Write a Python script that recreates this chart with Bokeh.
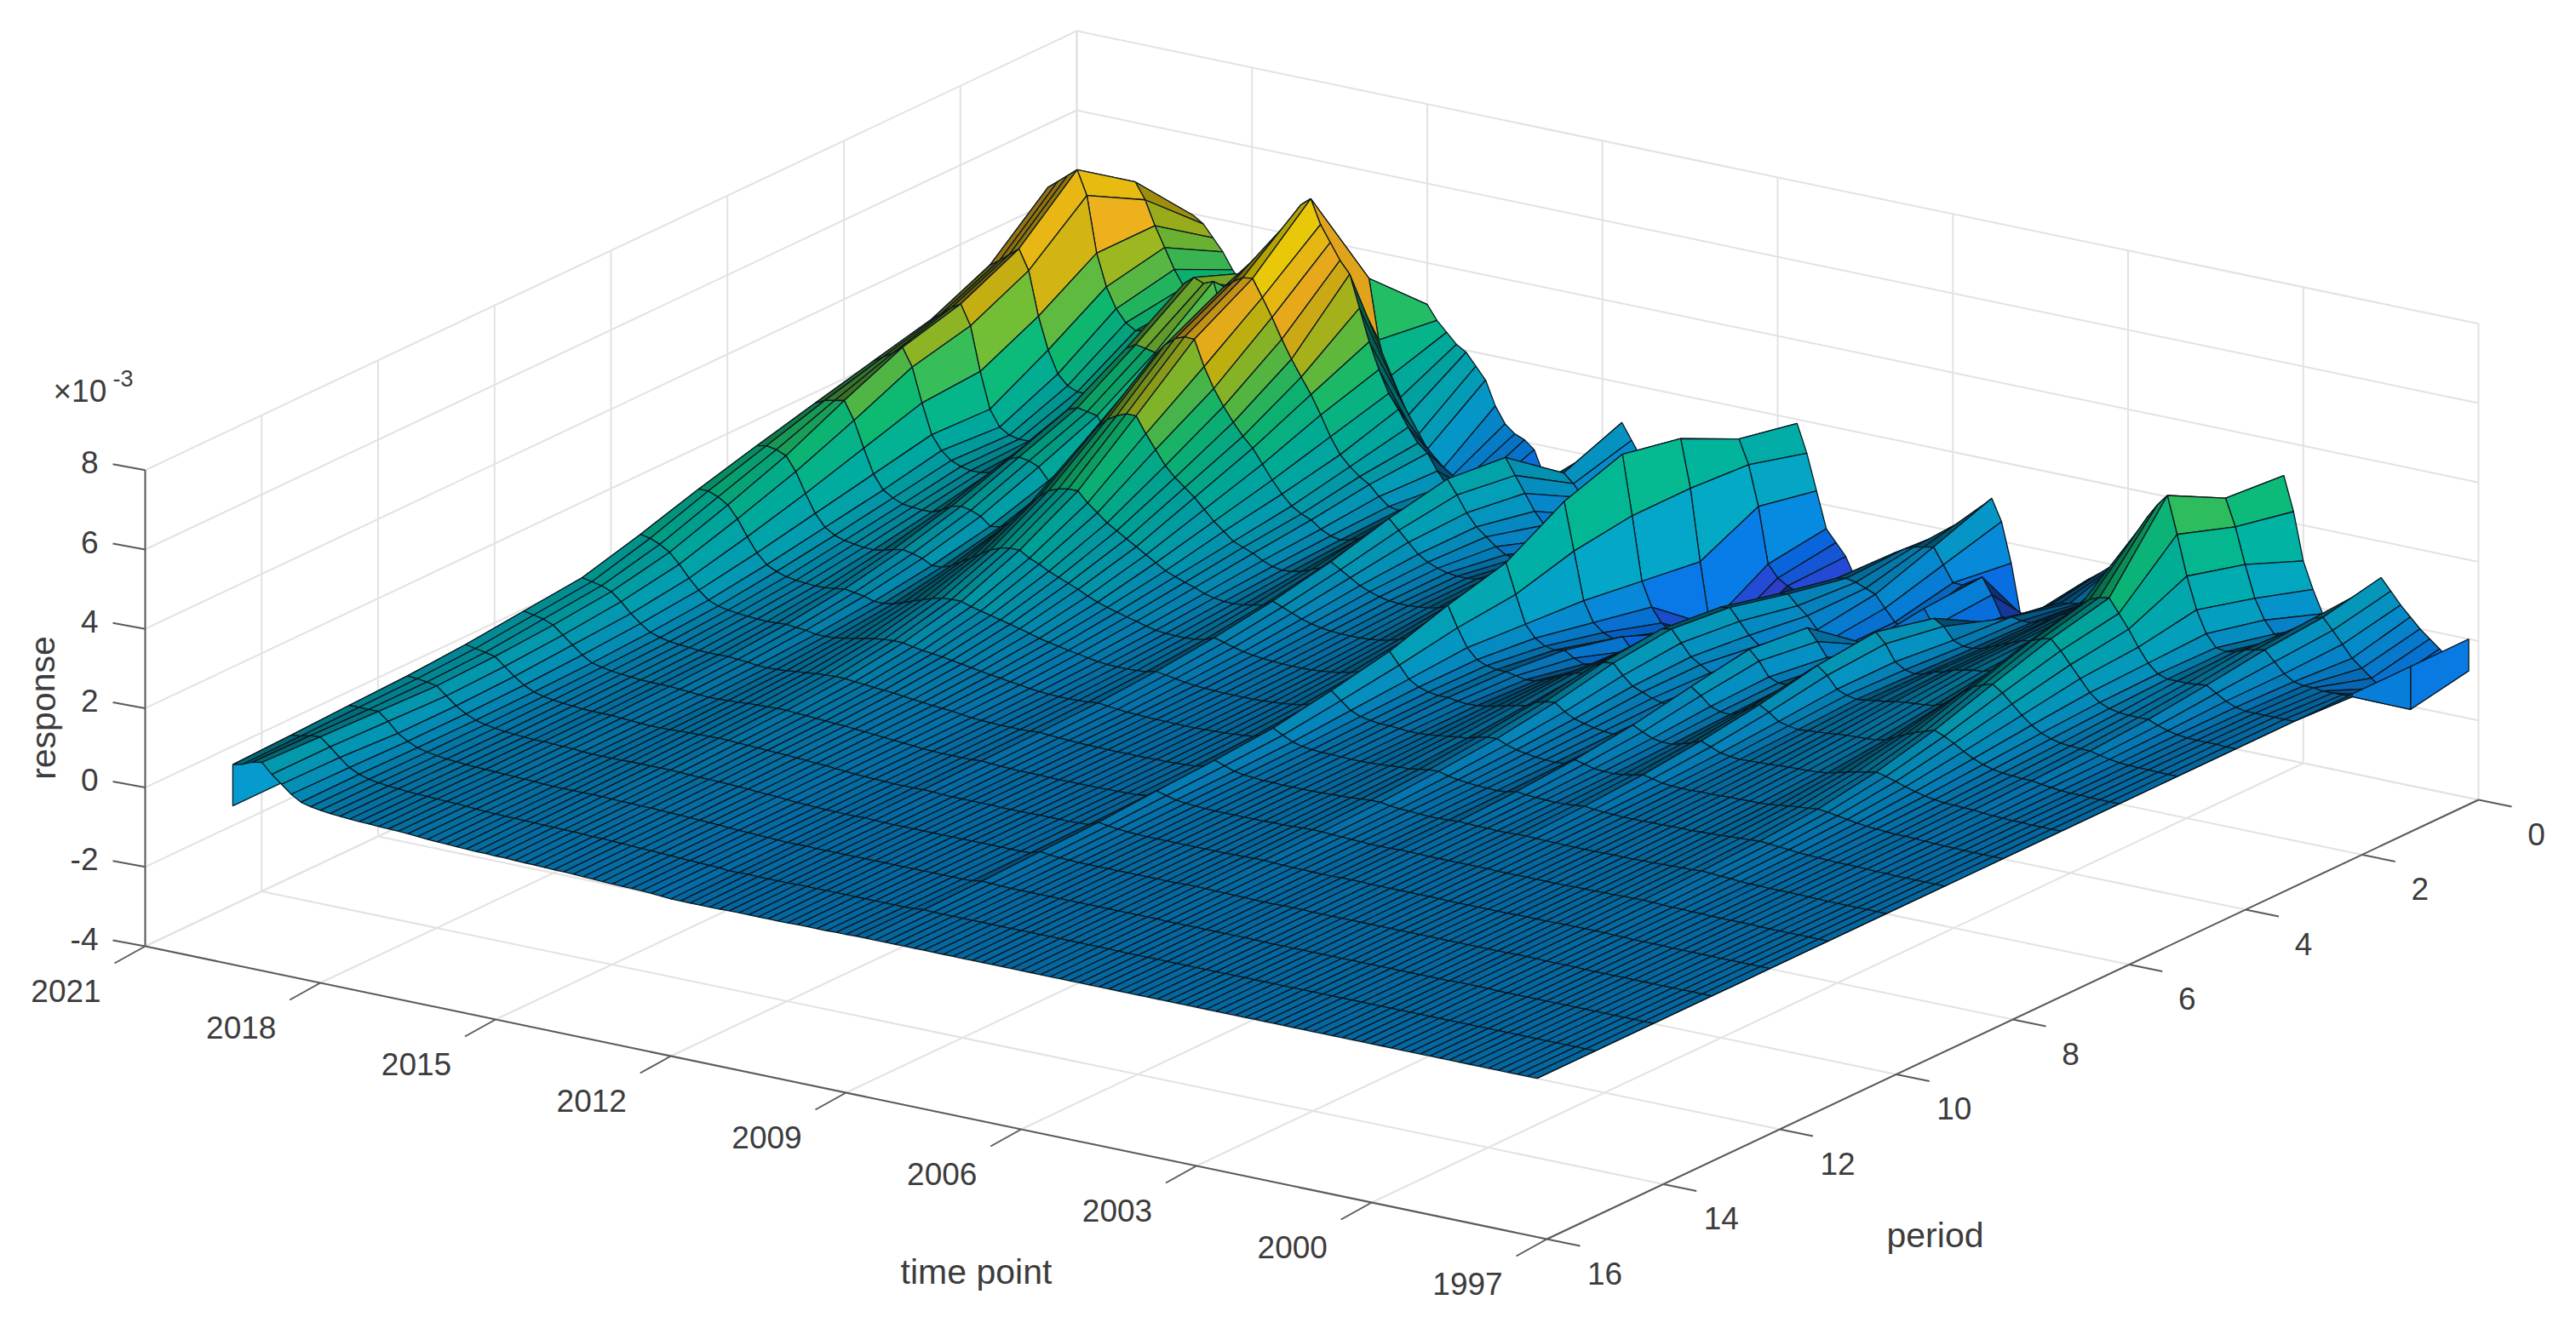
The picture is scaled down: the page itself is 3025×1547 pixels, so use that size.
from bokeh.plotting import figure
from bokeh.embed import file_html
from bokeh.resources import INLINE
from bokeh.models import Range1d, ColumnDataSource
from bokeh.core.properties import value

# response x 1e5, one row per time line, columns are period 0..16
rows_2019_2015 = [
[350,460,590,463,396,360,323,285,245,200,160,145,130,120,115,109,104],
[370,490,610,480,415,375,335,290,245,195,155,140,125,118,115,112,110],
[385,520,630,500,435,390,340,285,235,185,150,135,120,115,115,118,120],
[396,550,650,520,450,410,345,275,220,170,140,125,115,110,115,120,125],
[380,510,590,470,400,365,300,240,190,145,120,105,95,90,95,100,100],
[350,450,450,360,290,280,235,190,150,115,95,85,75,70,70,78,80],
[320,400,370,280,200,205,175,145,115,90,75,65,58,55,55,58,60],
[280,350,320,225,160,170,140,115,90,70,58,50,46,44,44,46,45],
[250,310,290,200,145,150,125,100,78,60,50,44,40,38,38,39,39],
[240,290,275,190,140,140,115,92,70,55,45,40,36,34,34,35,35],
[250,300,280,190,140,135,112,88,66,52,42,37,33,31,31,32,32],
[265,320,300,205,145,135,110,85,64,50,40,35,31,29,29,30,30],
[275,340,335,235,165,140,110,84,62,48,38,33,29,27,27,28,28],
[285,360,380,290,210,165,120,88,63,47,37,32,28,26,26,27,27],
[285,375,420,325,240,185,135,95,66,48,37,32,28,26,25,26,26],
[280,383,440,340,250,195,140,100,70,50,38,32,28,25,24,25,25],
[250,350,430,335,245,190,135,95,66,47,36,30,26,24,23,24,24],
[210,300,440,330,240,180,125,88,62,45,34,28,25,23,22,23,23],
[180,260,360,285,205,150,105,75,54,40,31,26,23,21,21,22,22],
[165,245,330,300,225,155,108,76,54,40,30,25,22,20,20,20,20],
[165,250,345,345,280,190,125,85,58,42,31,25,22,20,19,19,18],
[175,270,420,400,335,235,150,100,66,46,33,27,23,20,18,18,17],
[200,305,490,455,385,280,180,115,75,50,36,28,24,20,18,17,16],
[230,340,545,500,425,310,205,130,84,55,38,30,25,21,18,17,15],
[255,375,595,530,455,335,225,145,92,60,41,31,26,21,18,16,14],
[280,405,640,550,475,350,235,155,98,63,43,32,26,21,18,16,13],
[290,420,680,565,485,360,240,160,100,65,44,33,27,21,18,15,13],
[295,430,700,568,484,360,240,160,100,65,44,33,27,21,17,15,12],
]
rows_2015_2011 = [
[260,280,640,525,420,320,215,145,92,60,41,31,25,20,16,14,12],
[235,190,600,480,370,285,195,135,86,56,39,30,24,19,16,14,11],
[210,140,560,430,330,250,175,122,80,53,37,28,23,18,15,13,10],
[195,105,530,385,295,225,160,112,74,50,35,27,22,18,15,12,10],
[165,60,450,345,265,205,145,102,68,46,33,25,21,17,14,12,9],
[135,30,370,306,240,185,130,92,62,42,30,24,20,16,13,11,8],
[75,-30,305,260,205,160,115,80,55,38,27,22,18,15,12,10,8],
[35,-40,250,210,170,135,100,70,48,34,25,20,17,14,11,9,7],
[15,-50,215,170,140,115,85,62,43,30,22,18,15,12,10,8,6],
[5,-60,175,145,115,95,75,55,38,27,20,16,14,11,9,7,5],
[-15,-70,140,125,100,85,66,48,33,23,18,14,12,10,8,6,4],
[-75,-80,120,110,90,75,58,42,29,20,15,12,10,8,6,5,3],
[-90,-70,80,85,72,62,48,35,24,16,12,10,8,6,5,4,2],
[-95,-60,50,65,60,52,42,30,20,14,10,8,7,5,4,3,2],
[-85,-50,45,60,55,48,38,27,18,12,9,7,6,4,3,2,1],
[-60,-30,50,70,60,50,38,26,17,11,8,6,5,3,2,1,0],
[-30,-10,70,85,70,55,40,26,17,11,8,6,4,3,1,0,-2],
[0,10,100,110,90,65,45,28,18,12,8,6,4,2,0,-2,-4],
[50,30,130,140,110,75,50,32,20,13,9,6,4,2,0,-2,-4],
[100,42,150,165,135,95,65,42,26,16,11,8,5,3,1,-1,-4],
[60,20,110,130,110,80,55,35,22,13,9,6,4,2,0,-2,-4],
[20,-10,70,90,85,65,45,28,18,10,7,5,3,1,0,-2,-4],
[-20,-50,30,60,60,50,35,22,14,8,6,4,2,1,0,-2,-4],
[-60,-90,0,40,45,40,28,18,11,7,5,3,2,1,0,-2,-3],
]
rows_2011_2007 = [
[-100,-120,-30,20,35,32,23,15,9,6,4,3,2,1,0,-1,-3],
[-130,-140,-50,5,28,27,20,13,8,5,4,3,2,1,0,-1,-3],
[-150,-150,-60,0,25,25,18,12,7,5,3,2,2,1,0,-1,-3],
[-160,-150,-65,0,25,25,18,11,7,4,3,2,1,1,0,-1,-3],
[-165,-145,-60,5,28,27,18,11,7,4,3,2,1,1,0,-1,-3],
[-160,-130,-45,15,35,30,20,12,7,4,3,2,1,1,0,-1,-3],
[-140,-100,-20,35,45,35,23,14,8,5,3,2,1,1,0,-1,-2],
[-110,-60,20,60,60,45,28,17,10,6,4,2,2,1,0,-1,-2],
[-70,-20,65,90,80,58,35,21,12,7,4,3,2,1,0,-1,-2],
[-30,30,110,130,110,75,45,26,15,9,5,3,2,1,0,-1,-2],
[30,80,160,175,145,95,58,33,19,11,6,4,2,1,0,-1,-1],
[90,130,210,225,185,125,78,45,26,14,8,5,3,1,0,-1,-1],
[150,180,260,280,230,155,115,75,45,24,14,8,4,2,1,0,0],
[190,220,290,320,270,185,147,100,70,45,33,25,15,10,5,2,0],
[120,160,170,170,150,110,95,70,50,32,24,18,11,7,4,1,0],
[30,60,-10,10,30,40,50,40,30,20,15,12,8,5,3,1,0],
[-60,-80,-165,-50,-20,10,25,25,20,14,11,9,6,4,2,1,0],
[-90,-110,-190,-85,-40,-5,15,18,15,11,9,7,5,3,2,1,0],
[-120,-125,-200,-100,-50,-10,10,14,12,9,7,6,4,3,2,1,0],
[-170,-135,-137,-100,-40,-5,10,14,12,9,7,5,4,3,2,1,0],
[-190,-160,-180,-130,-70,-20,5,10,10,8,6,5,4,3,2,1,0],
[-200,-180,-210,-165,-90,-30,0,8,8,7,6,5,4,3,2,1,0],
[-210,-190,-200,-160,-85,-30,2,9,8,7,6,5,4,3,2,1,0],
]
rows_2007_2003 = [
[-205,-170,-160,-120,-60,-15,10,12,10,8,6,5,4,3,2,1,0],
[-190,-140,-120,-80,-30,5,20,18,13,9,7,5,4,3,2,1,0],
[-160,-100,-80,-50,-5,25,32,24,16,11,8,6,4,3,2,1,0],
[-120,-60,-50,-25,15,40,42,30,20,13,9,6,4,3,2,1,0],
[-80,-30,-25,-5,30,50,48,34,22,14,10,7,5,3,2,1,0],
[-40,-5,0,25,60,80,70,48,30,18,12,8,5,4,2,1,0],
[-10,15,20,50,85,100,85,55,35,22,14,9,6,4,2,1,0],
[20,30,25,55,90,105,88,58,36,23,14,9,6,4,2,1,0],
[50,40,20,30,60,75,62,40,26,16,10,7,5,3,2,1,0],
[80,45,10,10,30,45,40,27,18,12,8,6,4,3,1,1,0],
[104,50,0,-20,10,30,30,20,14,9,7,5,3,2,1,0,0],
[50,10,-30,-45,-10,15,20,15,10,7,5,4,3,2,1,0,0],
[-50,-30,-60,-60,-25,5,14,11,8,6,4,3,2,1,1,0,0],
[-180,-30,-70,-65,-30,0,10,9,7,5,4,3,2,1,1,0,0],
[-190,-15,-50,-50,10,30,25,15,10,7,5,3,2,1,1,0,0],
[-210,0,-10,-30,80,95,70,42,24,13,7,4,3,2,1,0,0],
[-200,-40,-50,-30,50,70,52,30,18,10,6,4,3,2,1,0,0],
[-190,-90,-80,-40,15,35,30,19,12,8,5,4,3,2,1,0,0],
[-150,-100,-70,-35,5,25,22,15,10,7,5,3,2,1,1,0,0],
[-90,-90,-55,-20,10,25,20,14,9,6,4,3,2,1,0,0,0],
[-48,-70,-40,10,40,45,32,20,12,7,4,3,2,1,0,0,0],
[-30,-50,-25,40,80,70,46,28,16,9,5,3,2,1,0,0,0],
[-10,-35,-10,70,105,90,60,38,22,12,6,3,2,1,0,0,0],
[5,-25,5,55,80,70,46,28,17,9,5,3,2,1,0,0,0],
[30,-20,15,25,40,40,28,18,11,7,4,3,2,1,0,0,0],
]
rows_2003_1997 = [
[40,-15,10,15,25,30,22,14,9,6,4,2,2,1,0,0,0],
[50,-5,10,15,20,25,18,12,8,5,3,2,1,1,0,0,0],
[65,10,20,20,25,28,20,13,8,5,3,2,1,1,0,0,0],
[75,25,30,30,35,32,22,14,9,5,3,2,1,1,0,0,0],
[80,40,45,40,40,35,24,15,9,6,3,2,1,1,0,0,0],
[85,50,55,50,50,40,27,17,10,6,4,2,1,1,0,0,0],
[90,60,65,60,55,43,29,18,11,7,4,2,1,1,0,0,0],
[100,70,70,65,60,45,30,19,11,7,4,2,1,1,0,0,0],
[110,85,80,70,62,47,31,20,12,7,4,3,2,1,0,0,0],
[130,105,100,85,70,50,33,21,12,8,5,3,2,1,0,0,0],
[160,140,145,110,85,60,38,24,14,9,5,3,2,1,0,0,0],
[200,190,230,150,115,80,50,30,17,10,6,4,2,1,0,0,0],
[240,230,300,180,145,100,62,36,20,12,7,4,2,1,0,0,0],
[270,260,340,200,165,118,72,42,23,13,8,5,3,1,0,0,0],
[290,285,375,210,175,128,80,46,25,14,8,5,3,2,1,0,0],
[315,327,403,214,180,135,88,52,28,16,10,6,3,2,1,0,0],
[229,260,310,180,155,118,78,46,25,14,9,5,3,2,1,0,0],
[110,170,210,145,125,95,65,38,21,12,7,4,3,1,1,0,0],
[43,90,130,105,95,72,50,30,17,10,6,3,2,1,0,0,0],
[-13,40,75,70,65,52,37,23,13,7,4,3,2,1,0,0,0],
[-35,10,45,48,45,37,27,17,10,6,3,2,1,1,0,0,0],
[-30,5,40,40,35,28,20,13,8,5,3,2,1,0,0,0,0],
[-10,20,45,40,30,22,16,10,6,4,2,1,1,0,0,0,0],
[40,50,55,40,28,20,14,9,5,3,2,1,1,0,0,0,0],
[80,70,60,42,28,18,12,8,5,3,2,1,0,0,0,0,0],
[109,78,65,45,28,18,12,7,4,3,2,1,0,0,0,0,0],
[80,50,40,30,18,12,8,5,3,2,1,1,0,0,0,0,0],
[50,20,15,15,10,7,5,3,2,1,1,0,0,0,0,0,0],
[25,-10,0,5,5,3,2,2,1,1,0,0,0,0,0,0,0],
[0,-30,-5,0,2,2,1,1,1,0,0,0,0,0,0,0,0],
[-20,-50,-5,0,1,1,1,1,0,0,0,0,0,0,0,0,0],
[-40,-70,-8,0,1,1,0,0,0,0,0,0,0,0,0,0,0],
[-60,-85,-8,0,1,0,0,0,0,0,0,0,0,0,0,0,0],
[-75,-100,-7,0,0,0,0,0,0,0,0,0,0,0,0,0,0],
[-80,-108,-7,0,0,0,0,0,0,0,0,0,0,0,0,0,0],
]
edge_row = [0] * 17
first_time = 2019.5
time_step = 1 / 6

z_ticks = [-4, -2, 0, 2, 4, 6, 8]
time_ticks = [2021, 2018, 2015, 2012, 2009, 2006, 2003, 2000, 1997]
period_ticks = [0, 2, 4, 6, 8, 10, 12, 14, 16]

measured = rows_2019_2015 + rows_2015_2011 + rows_2011_2007 + rows_2007_2003 + rows_2003_1997
table = [edge_row] + measured + [edge_row]
times = [first_time] + [first_time - k * time_step for k in range(len(measured))]
times.append(times[-1])


# the view of the 3D box, in page pixels
def proj(t, per, z):
    u = (2021 - t) / 24
    v = (16 - per) / 16
    return (170 + 1646 * u + 1094 * v,
            1111 + 344 * u - 516 * v - 46.6 * (z + 4))


stops = [(-2.4, (58, 44, 205)), (-1.6, (56, 72, 240)), (-0.9, (10, 112, 248)),
         (0, (8, 150, 232)), (1, (4, 176, 204)), (2, (0, 188, 168)),
         (3, (16, 200, 120)), (3.8, (120, 200, 56)), (4.5, (208, 192, 16)),
         (5.1, (255, 184, 32)), (5.8, (255, 208, 16)), (6.5, (255, 240, 0))]


def shade(z, tone):
    rgb = stops[-1][1]
    if z <= stops[0][0]:
        rgb = stops[0][1]
    else:
        for (a, ca), (b, cb) in zip(stops, stops[1:]):
            if z <= b:
                f = (z - a) / (b - a)
                rgb = tuple(x + (y - x) * f for x, y in zip(ca, cb))
                break
    return "#%02x%02x%02x" % tuple(int(c * tone) for c in rgb)


p = figure(width=3009, height=1531, output_backend="svg", toolbar_location=None,
           x_range=Range1d(0, 3009), y_range=Range1d(1531, 0), min_border=0,
           outline_line_color=None, background_fill_color="white")
p.axis.visible = False
p.grid.visible = False

# grid on floor and walls
GRID = "#e2e2e2"
gx, gy = [], []


def gl(a, b):
    pa, pb = proj(*a), proj(*b)
    gx.append([pa[0], pb[0]])
    gy.append([pa[1], pb[1]])


for z in z_ticks:
    gl((2021, 16, z), (2021, 0, z))
    gl((2021, 0, z), (1997, 0, z))
for t in time_ticks:
    gl((t, 16, -4), (t, 0, -4))
    gl((t, 0, -4), (t, 0, 8))
for per in period_ticks:
    gl((2021, per, -4), (1997, per, -4))
    gl((2021, per, -4), (2021, per, 8))
p.multi_line(gx, gy, line_color=GRID, line_width=2)

# axes and ticks
AX = "#5a5a5a"
ax, ay = [], []


def al(a, b):
    ax.append([a[0], b[0]])
    ay.append([a[1], b[1]])


al(proj(2021, 16, -4), proj(2021, 16, 8))
al(proj(2021, 16, -4), proj(1997, 16, -4))
al(proj(1997, 16, -4), proj(1997, 0, -4))
for z in z_ticks:
    a = proj(2021, 16, z)
    al(a, (a[0] - 38, a[1] - 7))
for t in time_ticks:
    a = proj(t, 16, -4)
    al(a, (a[0] - 36, a[1] + 20))
for per in period_ticks:
    a = proj(1997, per, -4)
    al(a, (a[0] + 39, a[1] + 8))
p.multi_line(ax, ay, line_color=AX, line_width=2)

# surface, far quads first; closely packed quads read darker, as their edges crowd
qx, qy, qc = [], [], []
for i in range(len(table) - 1):
    for j in range(16):
        cs = [(i, j), (i, j + 1), (i + 1, j + 1), (i + 1, j)]
        pts = [proj(times[a], b, table[a][b] / 100) for a, b in cs]
        xs = [c[0] for c in pts]
        ys = [c[1] for c in pts]
        area = abs(sum(xs[k] * ys[(k + 1) % 4] - xs[(k + 1) % 4] * ys[k] for k in range(4))) / 2
        edge = ((xs[1] - xs[0]) ** 2 + (ys[1] - ys[0]) ** 2) ** 0.5
        gap = area / max(edge, 1)
        tone = 1 - min(0.5, 2.2 / max(gap, 0.1))
        qx.append(xs)
        qy.append(ys)
        qc.append(shade(sum(table[a][b] for a, b in cs) / 400, tone))
p.patches(xs="x", ys="y", fill_color="c", line_color="#0a1820", line_width=1.3,
          source=ColumnDataSource(dict(x=qx, y=qy, c=qc)))

# texts
TXT = "#3c3c3c"
FONT = value("Liberation Sans")
zt = [proj(2021, 16, z) for z in z_ticks]
p.text([a[0] - 55 for a in zt], [a[1] - 9 for a in zt], text=[str(z) for z in z_ticks],
       text_align="right", text_baseline="middle", text_font=FONT, text_font_size="37px", text_color=TXT)
tt = [proj(t, 16, -4) for t in time_ticks]
p.text([a[0] - 93 for a in tt], [a[1] + 52 for a in tt], text=[str(t) for t in time_ticks],
       text_align="center", text_baseline="middle", text_font=FONT, text_font_size="37px", text_color=TXT)
pt = [proj(1997, per, -4) for per in period_ticks]
p.text([a[0] + 68 for a in pt], [a[1] + 40 for a in pt], text=[str(v) for v in period_ticks],
       text_align="center", text_baseline="middle", text_font=FONT, text_font_size="37px", text_color=TXT)
p.text([1146], [1493], text=["time point"], text_align="center", text_baseline="middle",
       text_font=FONT, text_font_size="41px", text_color=TXT)
p.text([2272], [1450], text=["period"], text_align="center", text_baseline="middle",
       text_font=FONT, text_font_size="41px", text_color=TXT)
p.text([50], [831], text=["response"], angle=[1.5708], text_align="center", text_baseline="middle",
       text_font=FONT, text_font_size="41px", text_color=TXT)
p.text([62], [459], text=["\u00d710"], text_align="left", text_baseline="middle",
       text_font=FONT, text_font_size="37px", text_color=TXT)
p.text([132], [444], text=["-3"], text_align="left", text_baseline="middle",
       text_font=FONT, text_font_size="27px", text_color=TXT)

open("out.html", "w").write(file_html(p, INLINE))
